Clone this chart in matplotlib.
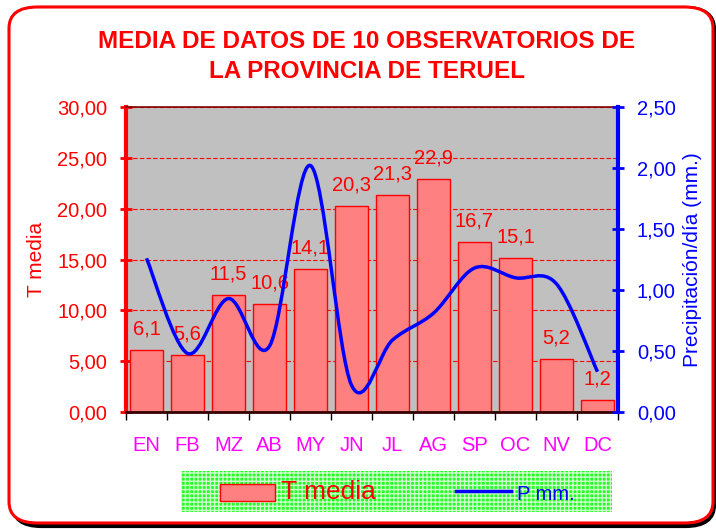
import matplotlib

matplotlib.use("Agg")
import matplotlib.pyplot as plt  # noqa: E402
import numpy as np  # noqa: E402
from matplotlib.patches import FancyBboxPatch, PathPatch, Rectangle  # noqa: E402
from matplotlib.path import Path  # noqa: E402
from matplotlib.lines import Line2D  # noqa: E402
from matplotlib.ticker import FixedLocator, MultipleLocator, FuncFormatter  # noqa: E402

plt.rcParams["font.family"] = ["Liberation Sans", "DejaVu Sans"]

months = ["EN", "FB", "MZ", "AB", "MY", "JN", "JL", "AG", "SP", "OC", "NV", "DC"]
t_media = [6.1, 5.6, 11.5, 10.6, 14.1, 20.3, 21.3, 22.9, 16.7, 15.1, 5.2, 1.2]
p_mm = [1.26, 0.48, 0.93, 0.54, 2.02, 0.22, 0.59, 0.81, 1.18, 1.10, 1.05, 0.33]

RED = "#ff0000"
BLUE = "#0000ff"
MAGENTA = "#ff00ff"


def comma(v, _pos=None):
    return f"{v:.2f}".replace(".", ",")


def smooth_path(xs, ys):
    """Excel-style smoothed line as cubic Bezier segments (Catmull-Rom)."""
    pts = np.column_stack([xs, ys]).astype(float)
    n = len(pts)
    verts = [pts[0]]
    codes = [Path.MOVETO]
    for i in range(n - 1):
        p0 = pts[max(i - 1, 0)]
        p1 = pts[i]
        p2 = pts[i + 1]
        p3 = pts[min(i + 2, n - 1)]
        c1 = p1 + (p2 - p0) / 6.0
        c2 = p2 - (p3 - p1) / 6.0
        verts += [c1, c2, p2]
        codes += [Path.CURVE4] * 3
    return Path(verts, codes)


W, H = 716, 529
fig = plt.figure(figsize=(W / 100, H / 100), dpi=100)

# rounded red frame with a little shadow
shadow = FancyBboxPatch((13 / W, 3 / H), 701 / W, 518 / H,
                        boxstyle="round,pad=0,rounding_size=0.04",
                        transform=fig.transFigure, fc="none", ec="black",
                        lw=3, zorder=-3)
frame = FancyBboxPatch((9 / W, 6 / H), 704 / W, 516 / H,
                       boxstyle="round,pad=0,rounding_size=0.04",
                       transform=fig.transFigure, fc="white", ec=RED,
                       lw=2.2, zorder=-2)
fig.patches.extend([shadow, frame])

fig.text(367 / W, 1 - 41 / H, "MEDIA DE DATOS DE 10 OBSERVATORIOS DE",
         ha="center", va="center", color=RED, fontsize=17.5, fontweight="bold")
fig.text(367 / W, 1 - 72 / H, "LA PROVINCIA DE TERUEL",
         ha="center", va="center", color=RED, fontsize=17.5, fontweight="bold")

left, right, top, bottom = 126, 618, 107, 412
ax = fig.add_axes([left / W, 1 - bottom / H, (right - left) / W, (bottom - top) / H])
ax.set_facecolor("#c0c0c0")
x = np.arange(len(months))

ax.bar(x, t_media, width=0.8, color="#ff8080", edgecolor=RED, lw=1, zorder=2)
for xi, v in zip(x, t_media):
    ax.annotate(f"{v:.1f}".replace(".", ","), (xi, v), xytext=(0, 21),
                textcoords="offset pixels", ha="center", va="center",
                color=RED, fontsize=14.5, zorder=5)

ax.set_xlim(-0.5, len(months) - 0.5)
ax.set_ylim(0, 30)
ax.yaxis.set_major_locator(MultipleLocator(5))
ax.yaxis.set_major_formatter(FuncFormatter(comma))
ax.grid(axis="y", color=RED, ls=(0, (4, 2)), lw=0.8, zorder=1)
ax.set_axisbelow(True)
ax.tick_params(axis="y", colors=RED, labelsize=14.5, direction="inout",
               length=9, width=2, pad=9)
ax.set_ylabel("T media", color=RED, fontsize=15, labelpad=8)

ax.set_xticks(x)
ax.set_xticklabels(months, color=MAGENTA, fontsize=14.5)
ax.xaxis.set_minor_locator(FixedLocator(np.arange(-0.5, len(months), 1)))
ax.tick_params(axis="x", which="major", length=0, pad=17)
ax.tick_params(axis="x", which="minor", length=6, width=1, color="black",
               direction="out")

ax.spines["left"].set_color(RED)
ax.spines["left"].set_linewidth(3)
ax.spines["bottom"].set_color("#330000")
ax.spines["bottom"].set_linewidth(2)
ax.spines["top"].set_color("#800000")
ax.spines["top"].set_linewidth(1.2)

ax2 = ax.twinx()
ax2.set_ylim(0, 2.5)
ax2.yaxis.set_major_locator(MultipleLocator(0.5))
ax2.yaxis.set_major_formatter(FuncFormatter(comma))
ax2.tick_params(axis="y", colors=BLUE, labelsize=14.5, direction="inout",
                length=9, width=2, pad=9)
ax2.spines["right"].set_color(BLUE)
ax2.spines["right"].set_linewidth(3)
ax2.spines["left"].set_visible(False)
ax2.spines["top"].set_visible(False)
ax2.spines["bottom"].set_visible(False)
ax2.set_ylabel("Precipitación/día (mm.)", color=BLUE, fontsize=15, labelpad=5)
ax2.add_patch(PathPatch(smooth_path(x, p_mm), fc="none", ec=BLUE, lw=2.5,
                        zorder=4))

# legend box with green checkered fill
lg = Rectangle((181 / W, 1 - 512 / H), 431 / W, 41 / H,
               transform=fig.transFigure, fc="#22ff22", ec="#ccffcc",
               hatch="++++", lw=0, zorder=3)
fig.patches.append(lg)
fig.patches.append(Rectangle((220 / W, 1 - 501 / H), 55 / W, 17 / H,
                             transform=fig.transFigure, fc="#ff8080",
                             ec=RED, lw=1, zorder=4))
fig.text(281 / W, 1 - 492 / H, "T media", color=RED, fontsize=19,
         ha="left", va="center", zorder=5)
fig.lines.append(Line2D([456 / W, 511 / W], [1 - 491 / H, 1 - 491 / H],
                        transform=fig.transFigure, color=BLUE, lw=2.5,
                        zorder=4))
fig.text(517 / W, 1 - 494 / H, "P mm.", color=BLUE, fontsize=14.5,
         ha="left", va="center", zorder=5)

fig.savefig("out.png", dpi=100)
